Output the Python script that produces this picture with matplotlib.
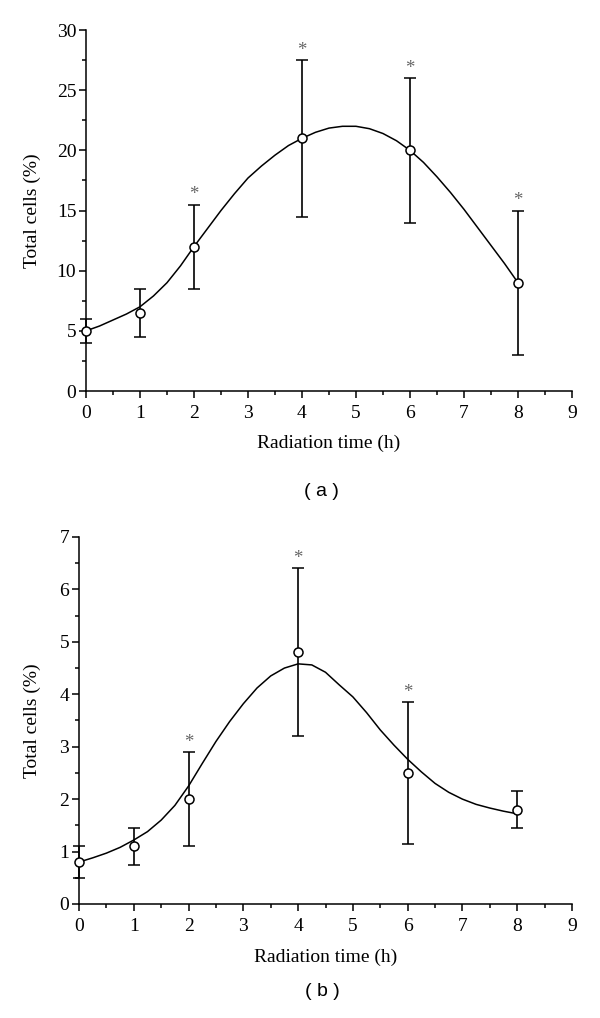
import matplotlib
matplotlib.use('Agg')
import matplotlib.pyplot as plt
from matplotlib.ticker import MultipleLocator

# Panel (a) data
hours = [0, 1, 2, 4, 6, 8]
cells_a = [5.0, 6.5, 12.0, 21.0, 20.0, 9.0]
err_a = [1.0, 2.0, 3.5, 6.5, 6.0, 6.0]
star_a = [False, False, True, True, True, True]
curve_x = [0, 0.25, 0.5, 0.75, 1, 1.25, 1.5, 1.75, 2, 2.25, 2.5, 2.75, 3, 3.25, 3.5, 3.75, 4,
           4.25, 4.5, 4.75, 5, 5.25, 5.5, 5.75, 6, 6.25, 6.5, 6.75, 7, 7.25, 7.5, 7.75, 8]
curve_y_a = [5.0, 5.4, 5.9, 6.4, 7.0, 7.9, 9.0, 10.4, 12.0, 13.5, 15.0, 16.4, 17.7, 18.7, 19.6, 20.4, 21.0,
             21.5, 21.85, 22.0, 22.0, 21.8, 21.4, 20.8, 20.0, 19.0, 17.8, 16.5, 15.1, 13.6, 12.1, 10.6, 9.0]

# Panel (b) data
cells_b = [0.8, 1.1, 2.0, 4.8, 2.5, 1.8]
err_b = [0.3, 0.35, 0.9, 1.6, 1.35, 0.35]
star_b = [False, False, True, True, True, False]
curve_y_b = [0.8, 0.88, 0.97, 1.08, 1.22, 1.38, 1.6, 1.88, 2.25, 2.68, 3.1, 3.48, 3.82, 4.12, 4.35, 4.5, 4.58,
             4.56, 4.42, 4.18, 3.95, 3.65, 3.32, 3.03, 2.76, 2.52, 2.3, 2.13, 2.0, 1.9, 1.83, 1.77, 1.72]

SERIF = 'Liberation Serif'
FS = 14


def draw_panel(ax, curve_y, values, errors, stars, y_max, y_major, y_minor, ylabel_x, xlabel_y):
    ax.plot(curve_x, curve_y, color='black', linewidth=1.1, zorder=2)
    ax.errorbar(hours, values, yerr=errors, fmt='o', color='black', mfc='white', mec='black',
                ms=6.5, mew=1.1, elinewidth=1.2, capsize=4, capthick=1.2, zorder=3, clip_on=False)
    for x, v, e, s in zip(hours, values, errors, stars):
        if s:
            ax.annotate('*', (x, v + e), xytext=(0, 1), textcoords='offset points',
                        ha='center', va='bottom', color='#666666', fontsize=13.5, family=SERIF)

    ax.set_xlim(0, 9)
    ax.set_ylim(0, y_max)
    ax.spines['top'].set_visible(False)
    ax.spines['right'].set_visible(False)
    for side in ['left', 'bottom']:
        ax.spines[side].set_linewidth(1.1)
    ax.xaxis.set_major_locator(MultipleLocator(1))
    ax.xaxis.set_minor_locator(MultipleLocator(0.5))
    ax.yaxis.set_major_locator(MultipleLocator(y_major))
    ax.yaxis.set_minor_locator(MultipleLocator(y_minor))
    ax.tick_params(which='major', direction='out', length=5, width=1.1, labelsize=FS)
    ax.tick_params(which='minor', direction='out', length=3, width=1.1)
    ax.tick_params(axis='x', which='major', pad=5)
    ax.tick_params(axis='y', which='major', pad=2)
    for lbl in ax.get_xticklabels() + ax.get_yticklabels():
        lbl.set_family(SERIF)

    ax.set_xlabel('Radiation time (h)', family=SERIF, fontsize=FS, va='center')
    ax.set_ylabel('Total cells (%)', family=SERIF, fontsize=FS, va='center')
    ax.xaxis.set_label_coords(0.5, xlabel_y)
    ax.yaxis.set_label_coords(ylabel_x, 0.5)


fig = plt.figure(figsize=(6.0, 10.18), dpi=100)

ax_a = fig.add_axes([0.1433, 0.6159, 0.9533 - 0.1433, 0.9705 - 0.6159])
draw_panel(ax_a, curve_y_a, cells_a, err_a, star_a, 30, 5, 2.5, (32 - 86) / 486, (391 - 443) / 361)

ax_b = fig.add_axes([0.1317, 0.1120, 0.9533 - 0.1317, 0.4725 - 0.1120])
draw_panel(ax_b, curve_y_b, cells_b, err_b, star_b, 7, 1, 0.5, (32 - 79) / 493, (904 - 957) / 367)

fig.text(321 / 600, 1 - 492 / 1018, '( a )', ha='center', va='center', family='Liberation Sans', fontsize=14)
fig.text(322 / 600, 1 - 992 / 1018, '( b )', ha='center', va='center', family='Liberation Sans', fontsize=14)

fig.savefig('out.png', dpi=100)
